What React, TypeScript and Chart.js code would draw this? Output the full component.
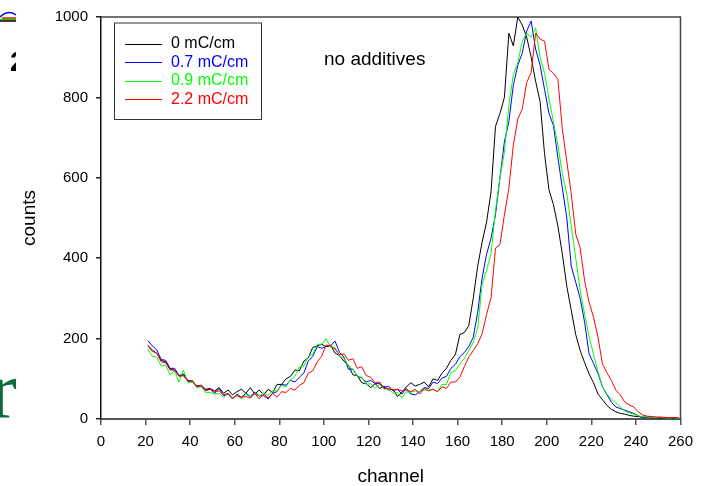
import React, { useEffect, useRef } from "react";
import { Chart, registerables } from "chart.js";

Chart.register(...registerables);

const FONT = "'Liberation Sans', Arial, Helvetica, sans-serif";

const channels = [
  21, 23, 25, 27, 29, 31, 33, 35, 37, 39, 41, 43, 45, 47, 49, 51, 53, 55, 57, 59,
  61, 63, 65, 67, 69, 71, 73, 75, 77, 79, 81, 83, 85, 87, 89, 91, 93, 95, 97, 99,
  101, 103, 105, 107, 109, 111, 113, 115, 117, 119, 121, 123, 125, 127, 129, 131, 133, 135, 137, 139,
  141, 143, 145, 147, 149, 151, 153, 155, 157, 159, 161, 163, 165, 167, 169, 171, 173, 175, 177, 179,
  181, 183, 185, 187, 189, 191, 193, 195, 197, 199, 201, 203, 205, 207, 209, 211, 213, 215, 217, 219,
  221, 223, 225, 227, 229, 231, 233, 235, 237, 239, 241, 243, 245, 247, 249, 251, 253, 255, 257, 259,
];

const counts00 = [
  183, 172, 163, 146, 142, 124, 122, 108, 112, 96,
  94, 82, 84, 74, 76, 70, 78, 64, 72, 60,
  68, 74, 64, 78, 62, 72, 60, 74, 66, 86,
  86, 100, 106, 122, 120, 144, 152, 178, 182, 186,
  180, 184, 164, 158, 144, 134, 110, 108, 90, 88,
  78, 88, 76, 82, 72, 74, 56, 66, 80, 90,
  82, 86, 92, 80, 100, 96, 114, 126, 146, 160,
  210, 215, 232, 300, 380, 440, 490, 565, 728, 760,
  800, 960, 928, 1000, 980, 950, 900, 840, 790, 660,
  570, 533, 480, 410, 330, 270, 210, 170, 140, 112,
  90, 62, 48, 34, 24, 18, 14, 12, 9, 7,
  6, 5, 4, 3, 3, 2, 3, 2, 2, 3,
];

const counts07 = [
  195, 182, 172, 148, 146, 126, 126, 108, 108, 94,
  94, 82, 82, 72, 74, 64, 76, 58, 62, 50,
  62, 54, 64, 56, 66, 58, 58, 50, 64, 68,
  86, 84, 96, 92, 104, 114, 144, 156, 180, 176,
  180, 182, 194, 166, 154, 124, 124, 106, 102, 92,
  96, 88, 88, 78, 82, 70, 74, 62, 76, 62,
  60, 68, 78, 76, 92, 88, 102, 106, 126, 136,
  155, 165, 180, 203, 265, 351, 410, 450, 508, 600,
  690, 740, 830, 880, 910, 965, 990, 920, 880, 820,
  760, 730, 650, 574, 500, 380, 340, 300, 240, 162,
  138, 113, 80, 60, 42, 30, 26, 22, 18, 14,
  8, 3, 4, 5, 3, 4, 3, 2, 3, 4,
];

const counts09 = [
  174, 156, 154, 132, 134, 110, 120, 92, 122, 90,
  92, 78, 80, 66, 66, 62, 64, 54, 64, 52,
  60, 50, 62, 54, 64, 56, 66, 58, 70, 70,
  84, 80, 98, 106, 130, 132, 156, 160, 186, 186,
  200, 178, 178, 156, 152, 130, 124, 106, 104, 86,
  88, 76, 86, 74, 76, 64, 66, 52, 68, 66,
  70, 68, 72, 72, 74, 68, 86, 86, 116, 120,
  137, 150, 170, 190, 225, 335, 370, 410, 520, 600,
  664, 780, 857, 886, 940, 960, 950, 973, 900, 860,
  796, 740, 680, 610, 560, 480, 400, 320, 260, 205,
  160, 118, 80, 62, 50, 40, 30, 20, 15, 12,
  8, 6, 5, 4, 3, 4, 3, 2, 3, 2,
];

const counts22 = [
  182, 168, 164, 142, 140, 122, 122, 106, 108, 94,
  96, 80, 84, 70, 74, 68, 70, 60, 64, 52,
  58, 54, 56, 52, 64, 50, 62, 52, 64, 54,
  68, 66, 76, 72, 84, 90, 114, 120, 142, 156,
  184, 182, 174, 160, 162, 146, 150, 126, 130, 108,
  104, 90, 92, 76, 76, 72, 74, 70, 72, 68,
  74, 62, 76, 70, 74, 68, 80, 76, 92, 92,
  104, 130, 154, 170, 187, 212, 260, 302, 425, 434,
  508, 574, 681, 746, 771, 837, 862, 960, 945, 940,
  870, 860, 845, 720, 640, 560, 460, 425, 343, 290,
  253, 203, 137, 115, 96, 72, 60, 42, 35, 30,
  18, 10, 7, 6, 5, 5, 4, 3, 4, 3,
];

const seriesValues = [counts00, counts07, counts09, counts22];
const seriesLabels = ["0 mC/cm", "0.7 mC/cm", "0.9 mC/cm", "2.2 mC/cm"];
const seriesColors = ["#000000", "#0000ff", "#00ff00", "#ff0000"];

const xRange = [0, 260];
const xStep = 20;
const yRange = [0, 1000];
const yStep = 200;
const xTitle = "channel";
const yTitle = "counts";
const noteText = "no additives";

const decorPlugin = {
  id: "decor",
  afterDraw(chart: any) {
    const ctx = chart.ctx as CanvasRenderingContext2D;
    const a = chart.chartArea;
    ctx.save();
    // frame top & right
    ctx.strokeStyle = "#444";
    ctx.lineWidth = 1.5;
    ctx.beginPath();
    ctx.moveTo(a.left, a.top);
    ctx.lineTo(a.right, a.top);
    ctx.lineTo(a.right, a.bottom);
    ctx.stroke();

    // legend box
    const bx = 114, by = 22.5, bw = 147, bh = 96.5;
    ctx.strokeStyle = "#333";
    ctx.lineWidth = 1;
    ctx.strokeRect(bx + 0.5, by + 0.5, bw, bh);
    ctx.font = `16px ${FONT}`;
    ctx.textBaseline = "middle";
    ctx.textAlign = "left";
    chart.data.datasets.forEach((ds: any, i: number) => {
      const y = 43.5 + i * 18.6;
      ctx.strokeStyle = ds.borderColor;
      ctx.lineWidth = 1;
      ctx.beginPath();
      ctx.moveTo(125, Math.round(y) + 0.5);
      ctx.lineTo(162, Math.round(y) + 0.5);
      ctx.stroke();
      ctx.fillStyle = ds.borderColor;
      ctx.fillText(ds.label, 171, y);
    });

    // note text
    ctx.fillStyle = "#000";
    ctx.font = `19px ${FONT}`;
    ctx.textAlign = "left";
    ctx.fillText(noteText, 324, 60);

    // clipped slide remnants at the left edge
    ctx.beginPath();
    ctx.rect(0, 0, 16, 486);
    ctx.clip();
    ctx.fillStyle = "#000";
    ctx.font = `bold 28px ${FONT}`;
    ctx.textBaseline = "alphabetic";
    ctx.fillText("2", 10, 71);
    ctx.fillStyle = "#0b6b3a";
    ctx.font = `82px 'Liberation Serif', 'DejaVu Serif', serif`;
    ctx.textAlign = "right";
    ctx.fillText("r", 17, 418);
    ctx.lineWidth = 1.5;
    ctx.strokeStyle = "#0000ff";
    ctx.beginPath();
    ctx.moveTo(0, 17);
    ctx.quadraticCurveTo(8, 9, 16, 15);
    ctx.stroke();
    ctx.strokeStyle = "#ff0000";
    ctx.beginPath();
    ctx.moveTo(2, 18);
    ctx.lineTo(16, 18);
    ctx.stroke();
    ctx.strokeStyle = "#00cc00";
    ctx.beginPath();
    ctx.moveTo(0, 19.5);
    ctx.lineTo(16, 19.5);
    ctx.stroke();
    ctx.strokeStyle = "#000";
    ctx.beginPath();
    ctx.moveTo(0, 21);
    ctx.lineTo(16, 21);
    ctx.stroke();
    ctx.restore();
  },
};

export default function App() {
  const ref = useRef<HTMLCanvasElement | null>(null);
  useEffect(() => {
    if (!ref.current) return;
    const datasets = seriesValues.map((vals, i) => ({
      label: seriesLabels[i],
      data: channels.map((c, j) => ({ x: c, y: vals[j] })),
      borderColor: seriesColors[i],
      backgroundColor: seriesColors[i],
      borderWidth: 1,
      pointRadius: 0,
      tension: 0,
      fill: false,
      order: seriesValues.length - 1 - i,
    }));
    const chart = new Chart(ref.current, {
      type: "line",
      data: { datasets },
      options: {
        responsive: false,
        animation: false,
        events: [],
        layout: { padding: { top: 14, right: 20, bottom: 0, left: 0 } },
        plugins: { legend: { display: false }, tooltip: { enabled: false } },
        scales: {
          x: {
            type: "linear",
            min: xRange[0],
            max: xRange[1],
            ticks: {
              stepSize: xStep,
              color: "#000",
              font: { size: 15, family: FONT },
              padding: 8,
              maxRotation: 0,
              autoSkip: false,
              callback: (v: any) => String(v),
            },
            grid: { drawOnChartArea: false, drawTicks: true, tickLength: 6, color: "#555", lineWidth: 1.5 },
            border: { display: true, color: "#555", width: 2 },
            title: {
              display: true,
              text: xTitle,
              color: "#000",
              font: { size: 19, family: FONT },
              padding: { top: 0, bottom: -2 },
            },
            afterFit: (s: any) => {
              s.height = 67;
            },
          },
          y: {
            type: "linear",
            min: yRange[0],
            max: yRange[1],
            ticks: {
              stepSize: yStep,
              color: "#000",
              font: { size: 15, family: FONT },
              padding: 8,
              callback: (v: any) => String(v),
            },
            grid: { drawOnChartArea: false, drawTicks: true, tickLength: 5, color: "#222", lineWidth: 1.5 },
            border: { display: true, color: "#111", width: 1.5 },
            title: {
              display: true,
              text: yTitle,
              color: "#000",
              font: { size: 19, family: FONT },
              padding: { top: 18, bottom: 0 },
            },
            afterFit: (s: any) => {
              s.width = 101;
            },
          },
        },
      },
      plugins: [decorPlugin],
    });
    return () => chart.destroy();
  }, []);
  return (
    <div style={{ position: "absolute", left: 0, top: 0, width: 701, height: 486, background: "#fff" }}>
      <canvas ref={ref} width={701} height={486} style={{ display: "block" }} />
    </div>
  );
}
